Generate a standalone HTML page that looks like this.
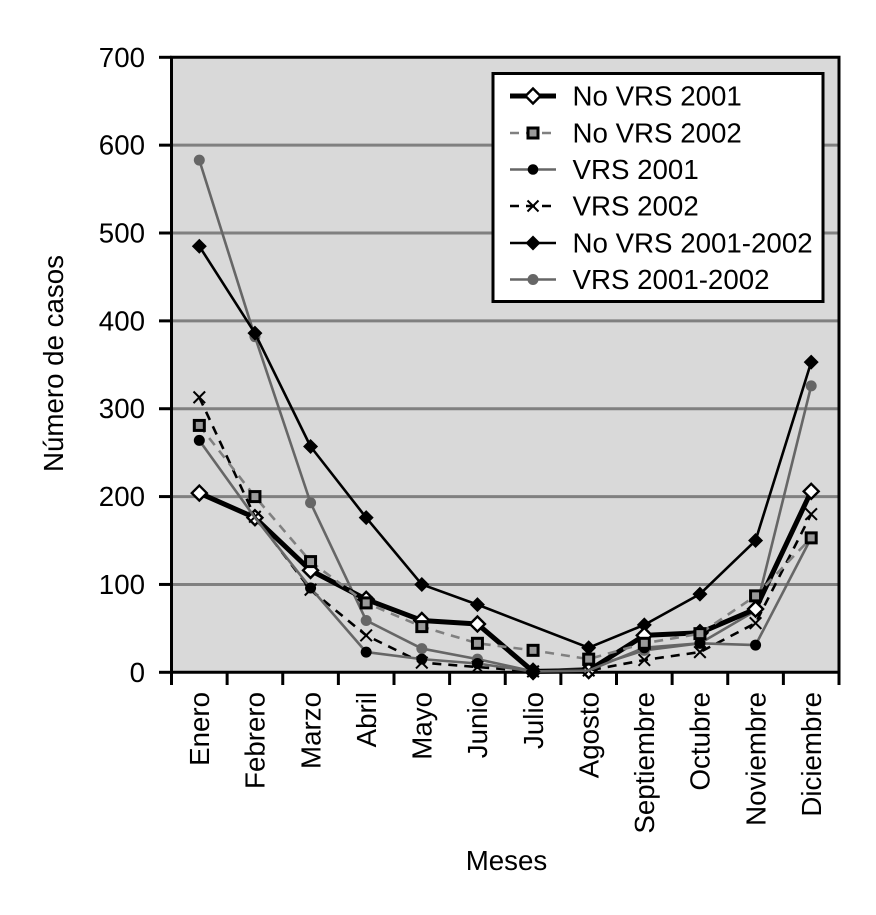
<!DOCTYPE html>
<html lang="es">
<head>
<meta charset="utf-8">
<title>Número de casos por mes</title>
<style>
html,body{margin:0;padding:0;background:#fff;width:876px;height:915px;overflow:hidden}
svg{display:block}
text{font-family:"Liberation Sans",Arial,sans-serif;font-size:27.7px;fill:#000;text-rendering:geometricPrecision}
</style>
</head>
<body>
<svg id="chart" width="876" height="915" viewBox="0 0 876 915" xmlns="http://www.w3.org/2000/svg">
  <rect x="171.5" y="57.5" width="667.5" height="615" fill="#d9d9d9"/>
  <g id="grid"></g>
  <g id="axes"></g>
  <g id="series"></g>
  <text x="0" y="0" transform="translate(63 472) rotate(-90)">Número de casos</text>
  <text x="506.500" y="870" text-anchor="middle">Meses</text>
  <g>
    <rect x="493" y="73.5" width="330" height="228" fill="#fff" stroke="#000" stroke-width="3"/>
    <g>
      <line x1="510" x2="556" y1="96" y2="96" stroke="#000" stroke-width="5"/>
      <path d="M533 88.5L540.5 96L533 103.5L525.5 96Z" fill="#fff" stroke="#000" stroke-width="2.4"/>
      <text x="572.500" y="105.5">No VRS 2001</text>
    </g>
    <g>
      <line x1="510" x2="552" y1="133" y2="133" stroke="#808080" stroke-width="2.6" stroke-dasharray="9 7"/>
      <rect x="528" y="128" width="10" height="10" fill="#999" stroke="#000" stroke-width="3"/>
      <text x="572.500" y="142.5">No VRS 2002</text>
    </g>
    <g>
      <line x1="510" x2="556" y1="169.5" y2="169.5" stroke="#666" stroke-width="2.6"/>
      <circle cx="533" cy="169.5" r="5.300" fill="#000"/>
      <text x="572.500" y="179">VRS 2001</text>
    </g>
    <g>
      <line x1="510" x2="552" y1="206" y2="206" stroke="#000" stroke-width="2.6" stroke-dasharray="9 7"/>
      <path d="M527.5 200.500L538.500 211.500M538.500 200.500L527.500 211.500" stroke="#000" stroke-width="2"/>
      <text x="572.500" y="215.500">VRS 2002</text>
    </g>
    <g>
      <line x1="510" x2="556" y1="243" y2="243" stroke="#000" stroke-width="2.6"/>
      <path d="M533 235.500L540.500 243L533 250.500L525.500 243Z" fill="#000"/>
      <text x="572.500" y="252.500">No VRS 2001-2002</text>
    </g>
    <g>
      <line x1="510" x2="556" y1="279.500" y2="279.500" stroke="#666" stroke-width="2.6"/>
      <circle cx="533" cy="279.500" r="5.500" fill="#666"/>
      <text x="572.500" y="289">VRS 2001-2002</text>
    </g>
  </g>
</svg>
<script>
const meses = ['Enero','Febrero','Marzo','Abril','Mayo','Junio','Julio','Agosto','Septiembre','Octubre','Noviembre','Diciembre'];
const yTicks = [0,100,200,300,400,500,600,700];
const noVrs2001 = [204,176,116,83,59,55,1,2,42,45,72,206];
const noVrs2002 = [281,200,126,79,52,33,25,15,33,44,87,153];
const vrs2001 = [264,176,96,23,15,10,1,2,28,33,31,153];
const vrs2002 = [313,177,94,42,11,6,1,2,14,23,56,180];
const noVrs0102 = [485,386,257,176,100,77,null,28,54,89,150,353];
const vrs0102 = [583,382,193,59,27,15,1,5,25,33,70,326];
const marcadorNegroJulio = [null,null,null,null,null,null,1,null,null,null,null,null];
const sinPuntoVrs2001 = ['Febrero','Julio','Agosto'];

const NS = 'http://www.w3.org/2000/svg';
const X0 = 171.5, X1 = 839, Y0 = 672.3, YTOP = 57.3, YMAX = 700;
const xScale = i => X0 + (X1 - X0) * (i + 0.5) / meses.length;
const xEdge = i => X0 + (X1 - X0) * i / meses.length;
const yScale = v => Y0 - (Y0 - YTOP) * v / YMAX;

function mk(tag, attrs, parent) {
  const el = document.createElementNS(NS, tag);
  for (const k in attrs) el.setAttribute(k, attrs[k]);
  parent.appendChild(el);
  return el;
}

const gridG = document.getElementById('grid');
const axesG = document.getElementById('axes');
const seriesG = document.getElementById('series');

yTicks.forEach(t => {
  const y = yScale(t);
  if (t > 0 && t < YMAX) {
    const g = mk('line', {x1: X0, x2: X1, y1: y, y2: y, stroke: '#808080', 'stroke-width': 3}, gridG);
    
    
  }
  const tick = mk('line', {x1: 159, x2: X0, y1: y, y2: y, stroke: '#000', 'stroke-width': 3}, axesG);
  
  
  const lab = mk('text', {x: 145, y: y + 9.5, 'text-anchor': 'end'}, axesG);
  lab.textContent = String(t);
  
  
});

const axisFrame = mk('path', {d: `M${X0} ${YTOP}H${X1}V${Y0}H${X0}Z`, fill: 'none', stroke: '#000', 'stroke-width': 3}, axesG);



for (let i = 0; i <= meses.length; i++) {
  const tick = mk('line', {x1: xEdge(i), x2: xEdge(i), y1: Y0, y2: 685, stroke: '#000', 'stroke-width': 3}, axesG);
  
  
}
meses.forEach((m, i) => {
  const lab = mk('text', {transform: `translate(${xScale(i) + 9.8} 692) rotate(-90)`, 'text-anchor': 'end'}, axesG);
  lab.textContent = m;
  
  
});

function drawMarker(kind, cx, cy, parent) {
  if (kind === 'diamond-white' || kind === 'diamond-black') {
    const r = 7.5;
    return mk('path', {
      d: `M${cx} ${cy - r}L${cx + r} ${cy}L${cx} ${cy + r}L${cx - r} ${cy}Z`,
      fill: kind === 'diamond-white' ? '#fff' : '#000',
      stroke: kind === 'diamond-white' ? '#000' : 'none',
      'stroke-width': 2.4
    }, parent);
  }
  if (kind === 'square') {
    return mk('rect', {x: cx - 5, y: cy - 5, width: 10, height: 10, fill: '#999', stroke: '#000', 'stroke-width': 3}, parent);
  }
  if (kind === 'dot-black') {
    return mk('circle', {cx: cx, cy: cy, r: 5.5, fill: '#000'}, parent);
  }
  if (kind === 'dot-gray') {
    return mk('circle', {cx: cx, cy: cy, r: 5.5, fill: '#666'}, parent);
  }
  const r = 5.8;
  return mk('path', {
    d: `M${cx - r} ${cy - r}L${cx + r} ${cy + r}M${cx + r} ${cy - r}L${cx - r} ${cy + r}`,
    stroke: '#000', 'stroke-width': 2, fill: 'none'
  }, parent);
}

function drawSeries(name, values, color, width, dash, marker, skip) {
  const g = mk('g', {}, seriesG);
  
  
  const pts = [];
  values.forEach((v, i) => { if (v !== null) pts.push(xScale(i) + ',' + yScale(v)); });
  const attrs = {points: pts.join(' '), fill: 'none', stroke: color, 'stroke-width': width, 'stroke-linejoin': 'round'};
  if (dash) attrs['stroke-dasharray'] = dash;
  const line = mk('polyline', attrs, g);
  
  
  values.forEach((v, i) => {
    if (v === null || (skip && skip.includes(meses[i]))) return;
    const m = drawMarker(marker, xScale(i), yScale(v), g);
    
    
  });
}

drawSeries('vrs-2001-2002', vrs0102, '#666', 2.6, null, 'dot-gray');
drawSeries('no-vrs-2001-2002', noVrs0102, '#000', 2.6, null, 'diamond-black');
drawSeries('no-vrs-2001', noVrs2001, '#000', 5, null, 'diamond-white');
drawSeries('vrs-2002', vrs2002, '#000', 2.6, '9 7', 'cross');
drawSeries('vrs-2001', vrs2001, '#666', 2.6, null, 'dot-black', sinPuntoVrs2001);
drawSeries('no-vrs-2002', noVrs2002, '#808080', 2.6, '9 7', 'square');
drawSeries('julio-black', marcadorNegroJulio, '#000', 0, null, 'diamond-black');
</script>
</body>
</html>
